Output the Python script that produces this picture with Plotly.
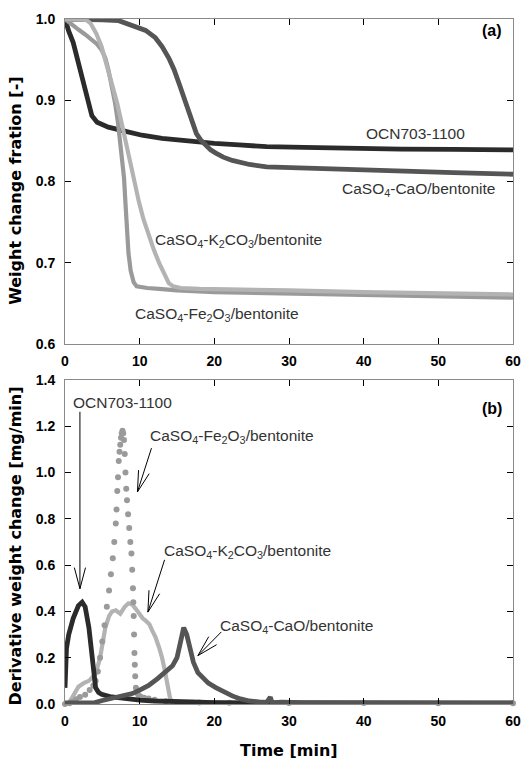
import math
import plotly.graph_objects as go

# ---------------- (a) weight change fraction ----------------
t_ocn_w = [0, 0.1, 0.5, 1.1, 2.0, 2.9, 3.6, 4.3, 5.8, 8, 10.3, 13, 17, 20, 23.3, 27, 32, 36, 45, 52, 60]
w_ocn = [1.0, 0.996, 0.985, 0.971, 0.938, 0.906, 0.881, 0.873, 0.867, 0.862, 0.857, 0.853, 0.849,
         0.847, 0.845, 0.843, 0.842, 0.841, 0.840, 0.8395, 0.839]

t_cao_w = [0, 3, 5, 7.2, 8.1, 9.9, 10.8, 12.1, 13.0, 13.9, 14.6, 15.3, 16.0, 16.6, 17.1, 17.6, 18.2,
           18.8, 19.5, 20.2, 21.2, 22.4, 24.7, 27, 30, 36, 45, 52, 60]
w_cao = [1.0, 1.0, 0.999, 0.998, 0.995, 0.99, 0.986, 0.977, 0.966, 0.952, 0.938, 0.92, 0.902, 0.885,
         0.870, 0.859, 0.851, 0.845, 0.839, 0.835, 0.830, 0.826, 0.821, 0.818, 0.817, 0.8155, 0.813,
         0.811, 0.809]

t_k2_w = [0, 1, 2, 2.8, 3.4, 4.2, 4.9, 5.6, 6.3, 7.0, 7.8, 8.5, 9.2, 9.9, 10.5, 11.2, 11.9, 12.6,
          13.3, 13.9, 14.5, 15.5, 18, 22, 30, 40, 50, 60]
w_k2 = [1.0, 1.0, 1.0, 0.999, 0.995, 0.982, 0.966, 0.944, 0.922, 0.896, 0.863, 0.833, 0.803, 0.775,
        0.754, 0.733, 0.716, 0.700, 0.686, 0.675, 0.671, 0.669, 0.668, 0.667, 0.666, 0.664, 0.662, 0.661]

t_fe_w = [0, 0.5, 1.0, 1.8, 2.7, 3.6, 4.3, 4.9, 5.4, 5.8, 6.3, 6.7, 7.1, 7.4, 7.6, 7.9, 8.1, 8.5,
          8.8, 9.2, 9.6, 10.1, 11, 12.6, 15, 20, 30, 40, 50, 60]
w_fe = [1.0, 0.996, 0.992, 0.987, 0.981, 0.975, 0.969, 0.962, 0.952, 0.938, 0.918, 0.897, 0.872,
        0.849, 0.834, 0.805, 0.773, 0.712, 0.690, 0.676, 0.671, 0.670, 0.669, 0.668, 0.666, 0.664,
        0.662, 0.660, 0.658, 0.657]

# ---------------- (b) derivative weight change ----------------
t_ocn_d = [0, 0.05, 0.2, 0.5, 1.1, 1.8, 2.3, 2.7, 3.2, 3.6, 3.8, 4.1, 4.5, 4.9, 6, 8, 10, 12, 14, 16,
           20, 25, 30, 40, 50, 60]
d_ocn = [0.07, 0.15, 0.24, 0.30, 0.37, 0.425, 0.44, 0.42, 0.33, 0.215, 0.143, 0.07, 0.05, 0.042,
         0.032, 0.022, 0.017, 0.013, 0.01, 0.008, 0.006, 0.005, 0.005, 0.004, 0.004, 0.004]

t_cao_d = [0, 2, 4, 5, 5.8, 7, 8, 9, 10, 11.2, 12.4, 13.5, 14.4, 15.0, 15.5, 15.9, 16.3, 16.7, 17.2,
           17.8, 18.4, 19.2, 20.2, 21.3, 22.4, 23.5, 24.7, 26, 27, 27.5, 27.7, 28, 29, 32, 36, 40,
           45, 50, 55, 60]
d_cao = [0.005, 0.005, 0.006, 0.015, 0.022, 0.03, 0.037, 0.045, 0.06, 0.08, 0.11, 0.143, 0.165,
         0.20, 0.27, 0.33, 0.30, 0.25, 0.18, 0.135, 0.114, 0.09, 0.071, 0.05, 0.035, 0.022, 0.013,
         0.009, 0.007, 0.03, 0.008, 0.006, 0.008, 0.006, 0.005, 0.005, 0.005, 0.005, 0.005, 0.005]

t_k2_d = [0, 0.5, 1.0, 1.8, 2.5, 3.2, 4.1, 4.7, 5.4, 5.9, 6.3, 6.8, 7.4, 8.0, 8.5, 9.0, 9.5, 9.9,
          10.4, 10.8, 11.3, 11.7, 12.1, 12.6, 13.0, 13.4, 13.7, 14.1, 14.5, 16, 18, 20, 22, 25, 28,
          35, 45, 60]
d_k2 = [0.0, 0.005, 0.03, 0.075, 0.09, 0.1, 0.13, 0.2, 0.33, 0.38, 0.40, 0.405, 0.39, 0.42, 0.435,
        0.43, 0.41, 0.39, 0.37, 0.36, 0.345, 0.316, 0.29, 0.244, 0.20, 0.14, 0.085, 0.02, 0.012,
        0.01, 0.008, 0.007, 0.006, 0.004, 0.003, 0.002, 0.002, 0.002]

t_fe_d = [0, 0.6, 1.0, 1.5, 2.0, 2.7, 3.3, 3.8, 4.1, 4.4, 4.7, 5.0, 5.3, 5.6, 5.9, 6.15, 6.4, 6.6,
          6.8, 6.9, 7.0, 7.1, 7.2, 7.3, 7.4, 7.5, 7.6, 7.7, 7.8, 7.9, 8.0, 8.1, 8.2, 8.3, 8.45, 8.6,
          8.75, 8.9, 9.0, 9.1, 9.15, 9.2, 9.25, 9.3, 9.35, 9.4, 9.5, 9.6, 9.8, 10.1, 10.6, 11.2, 12,
          13.5, 15, 18, 22, 30, 40, 50, 60]
d_fe = [0.0, 0.003, 0.01, 0.02, 0.03, 0.04, 0.06, 0.08, 0.10, 0.14, 0.20, 0.27, 0.34, 0.42, 0.49,
        0.56, 0.63, 0.70, 0.78, 0.84, 0.92, 0.98, 1.05, 1.09, 1.12, 1.15, 1.17, 1.18, 1.17, 1.14,
        1.08, 1.0, 0.93, 0.88, 0.82, 0.76, 0.70, 0.65, 0.58, 0.50, 0.44, 0.38, 0.30, 0.22, 0.17,
        0.12, 0.07, 0.05, 0.04, 0.032, 0.027, 0.024, 0.018, 0.012, 0.009, 0.006, 0.005, 0.004,
        0.004, 0.003, 0.003]

x_ticks = [0, 10, 20, 30, 40, 50, 60]
ya_ticks = [0.6, 0.7, 0.8, 0.9, 1.0]
yb_ticks = [0.0, 0.2, 0.4, 0.6, 0.8, 1.0, 1.2, 1.4]

C_OCN = '#2b2b2b'
C_CAO = '#555555'
C_K2 = '#b3b3b3'
C_FE = '#9a9a9a'
TXT = '#333333'

W, H = 532, 763
ML, MR, MT, MB = 65, 11, 15, 59
PW = W - ML - MR            # plot width in px
PH_B = 326                  # bottom panel height in px

fig = go.Figure()
# panel (a)
fig.add_trace(go.Scatter(x=t_ocn_w, y=w_ocn, mode='lines', line=dict(color=C_OCN, width=4.8),
                         xaxis='x', yaxis='y', cliponaxis=False))
fig.add_trace(go.Scatter(x=t_cao_w, y=w_cao, mode='lines', line=dict(color=C_CAO, width=4.8),
                         xaxis='x', yaxis='y', cliponaxis=False))
fig.add_trace(go.Scatter(x=t_fe_w, y=w_fe, mode='lines', line=dict(color=C_FE, width=4.2),
                         xaxis='x', yaxis='y', cliponaxis=False))
fig.add_trace(go.Scatter(x=t_k2_w, y=w_k2, mode='lines', line=dict(color=C_K2, width=4.2),
                         xaxis='x', yaxis='y', cliponaxis=False))
# panel (b)
fig.add_trace(go.Scatter(x=t_k2_d, y=d_k2, mode='lines', line=dict(color=C_K2, width=4.2),
                         xaxis='x2', yaxis='y2', cliponaxis=False))
fig.add_trace(go.Scatter(x=t_fe_d, y=d_fe, mode='markers', marker=dict(color=C_FE, size=6),
                         xaxis='x2', yaxis='y2', cliponaxis=False))
fig.add_trace(go.Scatter(x=t_ocn_d, y=d_ocn, mode='lines', line=dict(color=C_OCN, width=4.8),
                         xaxis='x2', yaxis='y2', cliponaxis=False))
fig.add_trace(go.Scatter(x=t_cao_d, y=d_cao, mode='lines', line=dict(color=C_CAO, width=4.8),
                         xaxis='x2', yaxis='y2', cliponaxis=False))

tickfont = dict(family='Liberation Sans, Arial, sans-serif', size=14, color='#000000', weight='bold')
axis_common = dict(showline=True, linecolor='#8a8a8a', linewidth=1, mirror='ticks', ticks='inside',
                   ticklen=6, tickcolor='#000000', tickwidth=1, showgrid=False, zeroline=False,
                   tickfont=tickfont)

fig.update_layout(
    width=W, height=H,
    margin=dict(l=ML, r=MR, t=MT, b=MB),
    paper_bgcolor='white', plot_bgcolor='white', showlegend=False,
    xaxis=dict(domain=[0, 1], anchor='y', range=[0, 60], tickvals=x_ticks, ticklabelstandoff=4,
               **axis_common),
    yaxis=dict(domain=[0.5254, 1], anchor='x', range=[0.6, 1.0], tickvals=ya_ticks,
               tickformat='.1f', ticklabelstandoff=6, **axis_common),
    xaxis2=dict(domain=[0, 1], anchor='y2', range=[0, 60], tickvals=x_ticks, ticklabelstandoff=4,
                **axis_common),
    yaxis2=dict(domain=[0, 0.4731], anchor='x2', range=[0, 1.4], tickvals=yb_ticks,
                tickformat='.1f', ticklabelstandoff=6, **axis_common),
)

lab_font = dict(family='Liberation Sans, Arial, sans-serif', size=15.5, color=TXT)
bold_font = dict(family='Liberation Sans, Arial, sans-serif', size=16, color='#000000', weight='bold')
title_font = dict(family='DejaVu Sans, Verdana, sans-serif', size=16, color='#000000', weight='bold')

ann = []
# panel (a) labels
ann += [
    dict(x=47.0, y=0.859, xref='x', yref='y', text='OCN703-1100', showarrow=False, font=lab_font),
    dict(x=47.4, y=0.790, xref='x', yref='y', text='CaSO<sub>4</sub>-CaO/bentonite', showarrow=False,
         font=lab_font),
    dict(x=23.2, y=0.728, xref='x', yref='y',
         text='CaSO<sub>4</sub>-K<sub>2</sub>CO<sub>3</sub>/bentonite', showarrow=False, font=lab_font),
    dict(x=20.3, y=0.636, xref='x', yref='y',
         text='CaSO<sub>4</sub>-Fe<sub>2</sub>O<sub>3</sub>/bentonite', showarrow=False, font=lab_font),
    dict(x=57.2, y=0.986, xref='x', yref='y', text='(a)', showarrow=False, font=bold_font),
]
# panel (b) labels
ann += [
    dict(x=7.75, y=1.302, xref='x2', yref='y2', text='OCN703-1100', showarrow=False, font=lab_font),
    dict(x=57.2, y=1.277, xref='x2', yref='y2', text='(b)', showarrow=False, font=bold_font),
    dict(x=22.3, y=1.157, xref='x2', yref='y2',
         text='CaSO<sub>4</sub>-Fe<sub>2</sub>O<sub>3</sub>/bentonite', showarrow=False, font=lab_font),
    dict(x=24.4, y=0.657, xref='x2', yref='y2',
         text='CaSO<sub>4</sub>-K<sub>2</sub>CO<sub>3</sub>/bentonite', showarrow=False, font=lab_font),
    dict(x=31.0, y=0.335, xref='x2', yref='y2', text='CaSO<sub>4</sub>-CaO/bentonite',
         showarrow=False, font=lab_font),
]

# axis titles
ann += [
    dict(x=-0.1096, y=0.749, xref='paper', yref='paper', text='Weight change fration [-]',
         textangle=-90, showarrow=False, font=title_font, xanchor='center', yanchor='middle'),
    dict(x=-0.1096, y=0.2313, xref='paper', yref='paper',
         text='Derivative weight change [mg/min]', textangle=-90, showarrow=False,
         font=title_font, xanchor='center', yanchor='middle'),
    dict(x=0.5, y=-0.0682, xref='paper', yref='paper', text='Time [min]', showarrow=False,
         font=title_font, xanchor='center', yanchor='middle'),
]
fig.update_layout(annotations=ann)

# pointer arrows (stem + open V head) as line shapes; offsets given in pixels
px_per_x = PW / 60.0
px_per_y = PH_B / 1.4
arrow_tips = [(2.0, 0.498), (9.7, 0.916), (11.1, 0.397), (17.8, 0.209)]
arrow_tails = [(0, -178), (14.3, -44.1), (17.0, -52.6), (23.8, -23.8)]
BARB = 22
ANG = math.radians(15)
shapes = []
line_style = dict(color='#000000', width=1)
for (tx, ty), (dx, dy) in zip(arrow_tips, arrow_tails):
    shapes.append(dict(type='line', xref='x2', yref='y2', x0=tx, y0=ty,
                       x1=tx + dx / px_per_x, y1=ty - dy / px_per_y, line=line_style))
    L = math.hypot(dx, dy)
    ux, uy = dx / L, dy / L
    for s in (-1, 1):
        c, sn = math.cos(s * ANG), math.sin(s * ANG)
        bx, by = (ux * c - uy * sn) * BARB, (ux * sn + uy * c) * BARB
        shapes.append(dict(type='line', xref='x2', yref='y2', x0=tx, y0=ty,
                           x1=tx + bx / px_per_x, y1=ty - by / px_per_y, line=line_style))
fig.update_layout(shapes=shapes)

fig.write_html('out.html', config={'displayModeBar': False},
               post_script="document.body.style.margin='0px';")
